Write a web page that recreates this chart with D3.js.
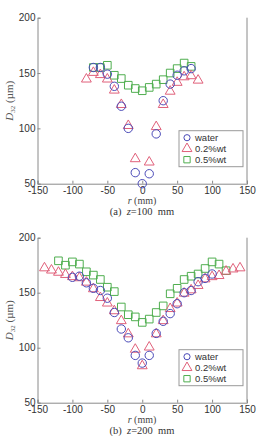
<!DOCTYPE html>
<html>
<head>
<meta charset="utf-8">
<script src="https://cdn.jsdelivr.net/npm/d3@7"></script>
<style>
body{margin:0;background:#fff;}
svg{display:block;}
</style>
</head>
<body>
<svg id="fig" width="260" height="436"></svg>
<script>
// panel (a) z=100 mm
var aWaterR = [-70,-60,-50,-40,-30,-20,-10,0,10,20,30,40,50,60,70];
var aWaterD = [155,155,149,138,120,100,60,50,59,95,125,140,148,152,154];
var aLowR = [-80,-70,-60,-50,-40,-30,-20,-10,10,20,30,40,50,60,70,80];
var aLowD = [144,150,148,144,134,121,102,72,69,101,121,133,141,146,147,143];
var aHighR = [-70,-60,-50,-40,-30,-20,-10,0,10,20,30,40,50,60,70];
var aHighD = [155,155,157,148,145,139,136,134,137,140,144,150,154,159,156];

// panel (b) z=200 mm
var bWaterR = [-100,-90,-80,-70,-60,-50,-40,-30,-20,-10,0,10,20,30,40,50,60,70,80,90,100];
var bWaterD = [164,165,159,154,152,145,132,117,109,93,86,93,113,124,131,140,150,152,160,163,167];
var bLowR = [-140,-130,-120,-110,-100,-90,-80,-70,-60,-50,-40,-30,-20,-10,0,10,20,30,40,50,60,70,80,90,100,110,120,130,140];
var bLowD = [172,170,168,166,164,163,159,153,145,140,133,124,112,98,83,100,112,124,135,140,149,152,156,162,164,165,169,171,172];
var bHighR = [-120,-110,-100,-90,-80,-70,-60,-50,-40,-30,-20,-10,0,10,20,30,40,50,60,70,80,90,100,110,120];
var bHighD = [179,175,178,176,169,166,162,155,151,137,130,128,123,126,132,138,149,154,162,165,167,172,178,176,170];

var xTicks = [-150,-100,-50,0,50,100,150];
var yTicks = [50,100,150,200];
var legendNames = ["water","0.2%wt","0.5%wt"];

var colWater = "#4a4ab8", colLow = "#e0607a", colHigh = "#4fae4f";
var svg = d3.select("#fig");

function panel(top, bottom, caption, water, low, high){
  var x = d3.scaleLinear().domain([-150,150]).range([37.5,247]);
  var y = d3.scaleLinear().domain([50,200]).range([bottom,top]);
  var g = svg.append("g");

  var xa = g.append("g").attr("transform","translate(0,"+bottom+")")
    .call(d3.axisBottom(x).tickValues(xTicks).tickSize(-3).tickPadding(3).tickFormat(d3.format("d")));
  var ya = g.append("g").attr("transform","translate("+x.range()[0]+",0)")
    .call(d3.axisLeft(y).tickValues(yTicks).tickSize(-3).tickPadding(2));
  [xa,ya].forEach(function(a){
    a.select(".domain").attr("stroke","#8a8a8a").attr("stroke-width",1);
    a.selectAll(".tick line").attr("stroke","#8a8a8a");
    a.selectAll("text").attr("fill","#333").attr("font-family","Liberation Sans, Arial, sans-serif").attr("font-size","10px");
  });
  xa.selectAll(".tick text").text(function(d){return d<0 ? "-"+Math.abs(d) : d;});
  // right border
  g.append("line").attr("x1",x.range()[1]).attr("x2",x.range()[1])
    .attr("y1",top).attr("y2",bottom).attr("stroke","#8a8a8a");

  // y label
  var yl = g.append("text").attr("transform","translate(13,"+((top+bottom)/2)+") rotate(-90)")
    .attr("text-anchor","middle").attr("fill","#555")
    .attr("font-family","Liberation Serif, serif").attr("font-size","11px");
  yl.append("tspan").attr("font-style","italic").text("D");
  yl.append("tspan").attr("font-size","7px").attr("dy","2").text("32");
  yl.append("tspan").attr("dy","-2").text(" (\u00b5m)");

  // x label
  var xl = g.append("text").attr("x",142).attr("y",bottom+20.5).attr("text-anchor","middle")
    .attr("fill","#444").attr("font-family","Liberation Serif, serif").attr("font-size","10px");
  xl.append("tspan").attr("font-style","italic").text("r");
  xl.append("tspan").text(" (mm)");

  var cp = g.append("text").attr("x",142).attr("y",bottom+31.5).attr("text-anchor","middle")
    .attr("fill","#333").attr("font-family","Liberation Serif, serif").attr("font-size","10.5px")
    .style("white-space","pre");
  cp.append("tspan").text("("+caption[0]+")  ");
  cp.append("tspan").attr("font-style","italic").text("z");
  cp.append("tspan").text("="+caption[1]+"  mm");

  var sq = d3.symbol().type(d3.symbolSquare).size(58);
  var tri = d3.symbol().type(d3.symbolTriangle).size(42);

  g.selectAll("path.hi").data(d3.zip(high[0],high[1])).join("path").attr("class","hi")
    .attr("d",sq).attr("transform",function(d){return "translate("+x(d[0])+","+y(d[1])+")";})
    .attr("fill","none").attr("stroke",colHigh).attr("stroke-width",1);
  g.selectAll("path.lo").data(d3.zip(low[0],low[1])).join("path").attr("class","lo")
    .attr("d",tri).attr("transform",function(d){return "translate("+x(d[0])+","+(y(d[1])-0.5)+")";})
    .attr("fill","none").attr("stroke",colLow).attr("stroke-width",1);
  g.selectAll("circle.wa").data(d3.zip(water[0],water[1])).join("circle").attr("class","wa")
    .attr("cx",function(d){return x(d[0]);}).attr("cy",function(d){return y(d[1]);}).attr("r",4.2)
    .attr("fill","none").attr("stroke",colWater).attr("stroke-width",1);

  // legend
  var lg = g.append("g").attr("transform","translate(179,"+(bottom-53)+")");
  lg.append("rect").attr("width",64).attr("height",36).attr("fill","#fff").attr("stroke","#999");
  var syms = [d3.symbol().type(d3.symbolCircle).size(30), tri, d3.symbol().type(d3.symbolSquare).size(40)];
  var cols = [colWater,colLow,colHigh];
  legendNames.forEach(function(n,i){
    lg.append("path").attr("d",syms[i]).attr("transform","translate(8,"+(7+i*11)+")")
      .attr("fill","none").attr("stroke",cols[i]);
    lg.append("text").attr("x",16).attr("y",10.5+i*11).text(n).attr("fill","#333")
      .attr("font-family","Liberation Sans, Arial, sans-serif").attr("font-size","9.5px");
  });
}

panel(17.7, 183.7, ["a","100"], [aWaterR,aWaterD], [aLowR,aLowD], [aHighR,aHighD]);
panel(237.7, 402.7, ["b","200"], [bWaterR,bWaterD], [bLowR,bLowD], [bHighR,bHighD]);
</script>
</body>
</html>
